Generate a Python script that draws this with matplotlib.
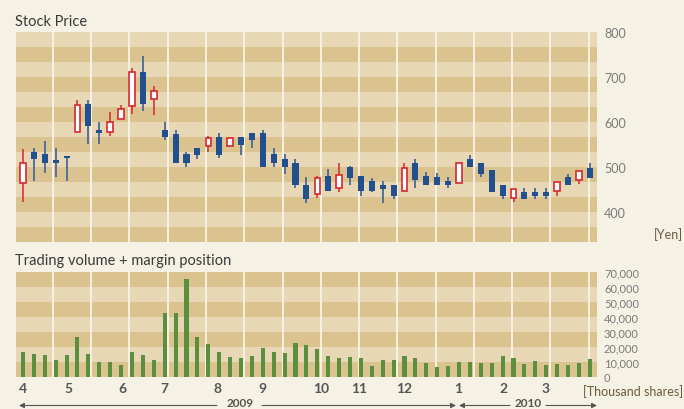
import matplotlib
matplotlib.use('Agg')
import matplotlib.pyplot as plt
import numpy as np

# ---------------- data ----------------
opens  = [464, 534, 528, 516, 525, 578, 640, 583, 578, 606, 635, 712, 651, 583, 574, 528, 543, 546, 567, 546,
          567, 576, 575, 528, 518, 510, 461, 440, 480, 454, 500, 480, 469, 460, 460, 446, 509, 480, 478, 469,
          465, 518, 509, 494, 460, 432, 445, 445, 445, 447, 478, 472, 498]
highs  = [541, 543, 558, 542, 525, 648, 649, 599, 623, 637, 721, 746, 680, 600, 583, 534, 543, 568, 575, 564,
          567, 576, 583, 543, 528, 518, 478, 480, 496, 509, 502, 480, 476, 469, 460, 509, 518, 489, 487, 478,
          510, 527, 509, 494, 460, 451, 453, 454, 454, 466, 485, 491, 509]
lows   = [422, 470, 486, 477, 470, 578, 551, 551, 568, 606, 617, 624, 616, 559, 510, 501, 518, 534, 519, 546,
          526, 543, 501, 501, 485, 454, 420, 431, 446, 445, 461, 436, 445, 420, 428, 446, 453, 460, 460, 453,
          465, 501, 478, 445, 428, 422, 428, 429, 429, 436, 461, 462, 476]
closes = [508, 517, 510, 510, 519, 638, 592, 575, 601, 629, 712, 639, 669, 566, 510, 510, 526, 564, 526, 564,
          550, 559, 501, 510, 501, 461, 428, 476, 446, 483, 476, 446, 446, 451, 436, 498, 471, 460, 460, 460,
          508, 501, 485, 445, 436, 451, 428, 436, 436, 466, 461, 491, 476]
volumes = [16400, 15100, 14400, 11100, 14400, 26400, 15100, 9800, 9800, 7800, 16400, 14400, 11100, 42400,
           42400, 65000, 26400, 21800, 16400, 13100, 12400, 13800, 19100, 16400, 15800, 22400, 21100, 18400,
           13800, 12400, 13100, 12400, 7100, 11100, 11100, 13800, 12400, 9100, 6400, 7100, 9800, 9800, 9100,
           9100, 13800, 12400, 8400, 10400, 7800, 8400, 7800, 9100, 11800]
month_labels = ['4', '5', '6', '7', '8', '9', '10', '11', '12', '1', '2', '3']
month_pos = [0, 4.13, 9.08, 12.94, 17.89, 21.93, 27.34, 30.83, 34.95, 39.91, 44.04, 47.98]
price_ticks = [400, 500, 600, 700, 800]
vol_ticks = [0, 10000, 20000, 30000, 40000, 50000, 60000, 70000]

# ---------------- style ----------------
W, H = 684, 410
BG = '#f5f1e4'
LIGHT = '#e8d7b4'
DARK = '#dbc38f'
VLINE = '#f7f1e2'
BLUE = '#22508f'
BLUE_WICK = '#49699a'
RED = '#d6282e'
GREEN = '#5b8f3e'
FONT = ['Lato', 'DejaVu Sans']
plt.rcParams['font.family'] = FONT

fig = plt.figure(figsize=(W / 100, H / 100), dpi=100)
fig.patch.set_facecolor(BG)

def fx(px):
    return px / W

def fy(py):
    return 1 - py / H

ax1 = fig.add_axes([fx(16), fy(243), 581 / W, 210 / H])
ax2 = fig.add_axes([fx(16), fy(377.7), 581 / W, 105 / H])

x = np.arange(len(opens))
xlim = (-0.64, 52.66)
vlines_x = 2.75 + 3.51 * np.arange(15)

for ax in (ax1, ax2):
    ax.set_xlim(*xlim)
    for s in ax.spines.values():
        s.set_visible(False)
    ax.set_facecolor(LIGHT)

# price panel stripes
p_lo, p_hi, step = 800 - 14 * 100 / 3, 800, 100 / 3
ax1.set_ylim(p_lo, p_hi)
for k in range(14):
    ax1.axhspan(p_lo + k * step, p_lo + (k + 1) * step, color=DARK if k % 2 == 0 else LIGHT, lw=0, zorder=0)
for vx in vlines_x:
    ax1.axvline(vx, color=VLINE, lw=1.4, zorder=1)

o = np.array(opens); c = np.array(closes); h = np.array(highs); l = np.array(lows)
up = c >= o
ax1.vlines(x[~up], l[~up], h[~up], color=BLUE_WICK, lw=1.3, zorder=2)
ax1.vlines(x[up], l[up], h[up], color=RED, lw=1.3, zorder=2, alpha=0.85)
ax1.bar(x[~up], (o - c)[~up], bottom=c[~up], width=0.56, color=BLUE, lw=0, zorder=3)
ax1.bar(x[up], (c - o)[up], bottom=o[up], width=0.50, facecolor='white', edgecolor=RED, lw=1.2, zorder=3)

ax1.set_xticks([])
ax1.yaxis.tick_right()
ax1.set_yticks(price_ticks)
ax1.set_yticklabels([str(t) for t in price_ticks])
ax1.tick_params(axis='y', length=0, pad=5, labelsize=9, labelcolor='#7a7a7a')

# volume panel
ax2.set_ylim(0, 70000)
for k in range(7):
    ax2.axhspan(k * 10000, (k + 1) * 10000, color=DARK if k % 2 == 0 else LIGHT, lw=0, zorder=0)
for vx in vlines_x:
    ax2.axvline(vx, color=VLINE, lw=1.4, zorder=1)
ax2.bar(x, volumes, width=0.37, color=GREEN, lw=0, zorder=3)
ax2.yaxis.tick_right()
ax2.set_yticks(vol_ticks)
ax2.set_yticklabels([f'{t:,}' for t in vol_ticks])
ax2.tick_params(axis='y', length=0, pad=5, labelsize=8, labelcolor='#7a7a7a')
ax2.set_xticks(month_pos)
ax2.set_xticklabels(month_labels, fontweight='bold')
ax2.tick_params(axis='x', length=0, pad=4, labelsize=10, labelcolor='#555555')

# titles and units
fig.text(fx(15), fy(21.5), 'Stock Price', fontsize=10.5, color='#3a3a3a', va='center', ha='left')
fig.text(fx(15), fy(261), 'Trading volume + margin position', fontsize=10.5, color='#3a3a3a', va='center', ha='left')
fig.text(fx(683), fy(235), '[Yen]', fontsize=9, color='#6b5a3c', va='center', ha='right')
fig.text(fx(683), fy(391.5), '[Thousand shares]', fontsize=9, color='#6b5a3c', va='center', ha='right')

# year arrows
def arrow(x0, x1, y):
    fig.add_artist(matplotlib.patches.FancyArrowPatch(
        (fx(x0), fy(y)), (fx(x1), fy(y)), transform=fig.transFigure,
        arrowstyle='-|>,head_length=3,head_width=1.5', color='#555555', lw=0.8,
        shrinkA=0, shrinkB=0, mutation_scale=1))

yy = 406.5
arrow(217, 19, yy)
arrow(262, 456, yy)
arrow(510, 459, yy)
arrow(546, 597, yy)
fig.text(fx(240), fy(409.5), '2009', fontsize=8.5, color='#555555', va='bottom', ha='center', fontweight='bold')
fig.text(fx(528), fy(409.5), '2010', fontsize=8.5, color='#555555', va='bottom', ha='center', fontweight='bold')

fig.savefig('out.png', dpi=100, facecolor=BG)
